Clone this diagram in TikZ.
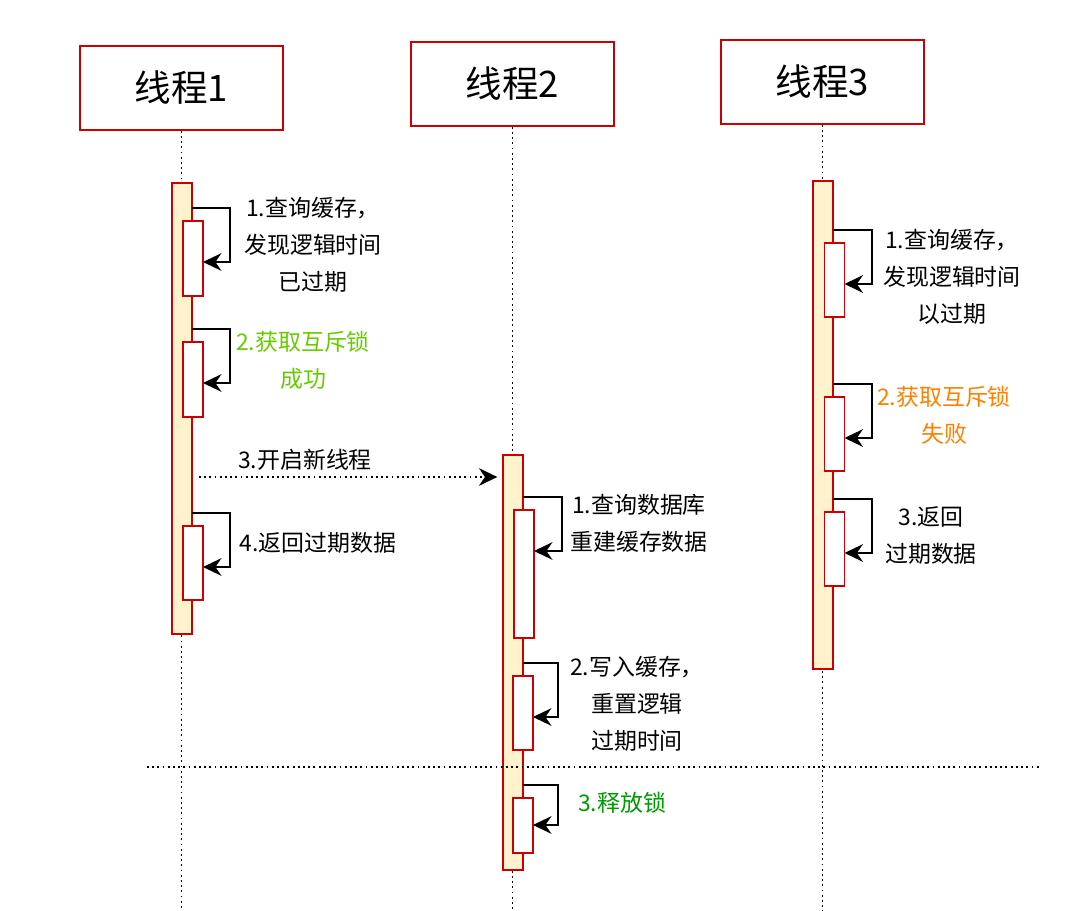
\documentclass[tikz,border=0pt]{standalone}
\usepackage{fontspec}
\setmainfont{Noto Sans CJK SC}
\usetikzlibrary{arrows.meta,calc}
\definecolor{lockred}{HTML}{CC0000}
\definecolor{barfill}{HTML}{FFF2CC}
\definecolor{okgreen}{HTML}{66CC00}
\definecolor{relgreen}{HTML}{009900}
\definecolor{failorange}{HTML}{FF8000}

\begin{document}
\begin{tikzpicture}[x=0.025cm, y=-0.025cm,
  thread/.style={rectangle, draw=lockred, line width=1.1pt, minimum width=5.075cm, minimum height=2.1cm, font=\fontsize{26}{30}\selectfont},
  life/.style={line width=1.3pt, dash pattern=on 1.3pt off 2.4pt},
  actbar/.style={rectangle, draw=lockred, line width=1.3pt, fill=barfill, minimum width=0.5cm, minimum height=#1*0.025cm, inner sep=0pt, outer sep=0pt},
  callbox/.style={rectangle, draw=lockred, line width=1.3pt, fill=white, minimum width=0.5cm, minimum height=#1*0.025cm, inner sep=0pt, outer sep=0pt},
  selfarr/.style={-{Stealth[length=4.6mm, width=4.4mm, inset=1.5mm]}, line width=1.4pt},
  msg/.style={-{Stealth[length=4.6mm, width=4.4mm, inset=1.5mm]}, line width=1.3pt, dash pattern=on 1.3pt off 2.4pt, shorten <=5pt, shorten >=4pt},
  note/.style={align=center, font=\fontsize{16.3}{26.2}\selectfont, inner sep=0pt}
]
  \useasboundingbox (0,0) rectangle (1092,911);

  % threads
  \node[thread] (h1) at (181.5,88) {线程1};
  \node[thread] (h2) at (512.5,84) {线程2};
  \node[thread] (h3) at (822.5,82) {线程3};

  \coordinate (bot) at (0,911);
  \draw[life] (h1.south) -- (h1.south |- bot);
  \draw[life] (h2.south) -- (h2.south |- bot);
  \draw[life] (h3.south) -- (h3.south |- bot);

  % activation bars
  \node[actbar=451] (b1) at (182,408.5) {};
  \node[actbar=415] (b2) at (513,662.5) {};
  \node[actbar=488] (b3) at (823,425) {};

  % thread 1
  \node[callbox=75] (a1) at (193,258.5) {};
  \node[callbox=75] (a2) at (193,379.5) {};
  \node[callbox=74] (a4) at (193,563) {};
  \draw[selfarr] ($(b1.east |- a1.north)+(0,-13)$) -- ++(38,0) |- ($(a1.north east)+(0,41)$);
  \draw[selfarr] ($(b1.east |- a2.north)+(0,-13)$) -- ++(38,0) |- ($(a2.north east)+(0,41)$);
  \draw[selfarr] ($(b1.east |- a4.north)+(0,-13)$) -- ++(38,0) |- ($(a4.north east)+(0,41)$);
  \node[note] (n11) at (313,245) {1.查询缓存，\\发现逻辑时间\\已过期};
  \node[note, text=okgreen] (n12) at (303,360.5) {2.获取互斥锁\\成功};
  \node[note] (n14) at (318,543) {4.返回过期数据};

  % new thread
  \coordinate (m3) at (0,477);
  \draw[msg] (b1.east |- m3) -- (b2.west |- m3);
  \node[note] (n13) at (305,460) {3.开启新线程};

  % thread 2
  \node[callbox=128] (c1) at (524,574) {};
  \node[callbox=74] (c2) at (523,713) {};
  \node[callbox=55] (c3) at (523,825.5) {};
  \draw[selfarr] ($(b2.east |- c1.north)+(0,-13)$) -- ++(39,0) |- ($(c1.north east)+(0,41)$);
  \draw[selfarr] ($(b2.east |- c2.north)+(0,-13)$) -- ++(35,0) |- ($(c2.north east)+(0,41)$);
  \draw[selfarr] ($(b2.east |- c3.north)+(0,-13)$) -- ++(35,0) |- ($(c3.north east)+(0,27)$);
  \node[note] (n21) at (639,523.5) {1.查询数据库\\重建缓存数据};
  \node[note] (n22) at (637,704) {2.写入缓存，\\重置逻辑\\过期时间};
  \node[note, text=relgreen] (n23) at (622,803) {3.释放锁};

  % thread 3
  \node[callbox=74] (d1) at (834.5,280) {};
  \node[callbox=74] (d2) at (834.5,434) {};
  \node[callbox=74] (d3) at (834.5,549) {};
  \draw[selfarr] ($(b3.east |- d1.north)+(0,-13)$) -- ++(39,0) |- ($(d1.north east)+(0,41)$);
  \draw[selfarr] ($(b3.east |- d2.north)+(0,-13)$) -- ++(39,0) |- ($(d2.north east)+(0,41)$);
  \draw[selfarr] ($(b3.east |- d3.north)+(0,-13)$) -- ++(39,0) |- ($(d3.north east)+(0,41)$);
  \node[note] (n31) at (952,277) {1.查询缓存，\\发现逻辑时间\\以过期};
  \node[note, text=failorange] (n32) at (944,415) {2.获取互斥锁\\失败};
  \node[note] (n33) at (931,535.5) {3.返回\\过期数据};

  % separator
  \coordinate (sepL) at (147,767);
  \coordinate (sepR) at (1040,767);
  \draw[life] (sepL) -- (sepR);
\end{tikzpicture}
\end{document}
